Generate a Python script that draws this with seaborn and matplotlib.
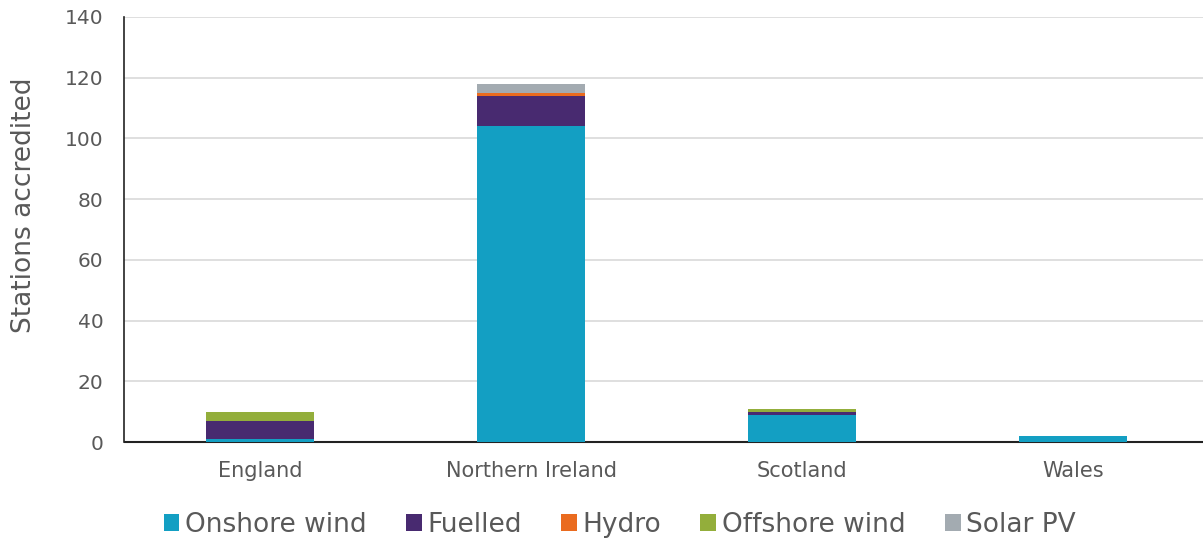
import matplotlib
matplotlib.use("Agg")
import matplotlib.pyplot as plt
from matplotlib.patches import Patch
import numpy as np
import pandas as pd
import seaborn as sns

regions = ["England", "Northern Ireland", "Scotland", "Wales"]
technologies = ["Onshore wind", "Fuelled", "Hydro", "Offshore wind", "Solar PV"]
onshore_wind = [1, 104, 9, 2]
fuelled = [6, 10, 1, 0]
hydro = [0, 1, 0, 0]
offshore_wind = [3, 0, 1, 0]
solar_pv = [0, 3, 0, 0]
colors = ["#139fc3", "#482a70", "#ea6b1f", "#93ae3b", "#a3abb1"]

layers = [onshore_wind, fuelled, hydro, offshore_wind, solar_pv]
cum = np.cumsum(np.array(layers, dtype=float), axis=0)

sns.set_theme(style="white")
plt.rcParams["font.family"] = ["DejaVu Sans"]
text_color = "#595959"

fig = plt.figure(figsize=(12.03, 5.41), dpi=100)
ax = fig.add_axes([124.5 / 1203, 99 / 541, 1084 / 1203, 425 / 541])

# Stacked bars: draw cumulative totals from the top layer down
for i in range(len(layers) - 1, -1, -1):
    df = pd.DataFrame({"region": regions, "value": cum[i]})
    sns.barplot(data=df, x="region", y="value", color=colors[i], width=0.4,
                saturation=1, ax=ax, linewidth=0, zorder=3)

ax.set_xlim(-0.5, 3.5)
ax.set_ylim(0, 140)
ax.set_yticks(range(0, 141, 20))
ax.yaxis.grid(True, color="#d9d9d9", linewidth=1.2, zorder=0)
ax.set_axisbelow(True)
for s in ["top", "right"]:
    ax.spines[s].set_visible(False)
ax.spines["left"].set_color("#222222")
ax.spines["bottom"].set_color("#222222")
ax.spines["left"].set_linewidth(1.2)
ax.spines["bottom"].set_linewidth(1.5)
ax.tick_params(axis="x", length=0, labelsize=15, colors=text_color, pad=14)
ax.tick_params(axis="y", length=0, labelsize=14.5, colors=text_color, pad=15)
ax.set_xlabel("")
ax.set_ylabel("Stations accredited", fontsize=19, color=text_color)
ax.yaxis.set_label_coords(-0.081, 0.558)

handles = [Patch(facecolor=c, edgecolor="none") for c in colors]
fig.legend(handles, technologies, loc="center", bbox_to_anchor=(0.515, 0.03),
           ncol=5, frameon=False, fontsize=19, labelcolor=text_color,
           handlelength=0.6, handleheight=0.6, handletextpad=0.2, columnspacing=1.5)

fig.savefig("out.png", dpi=100)
